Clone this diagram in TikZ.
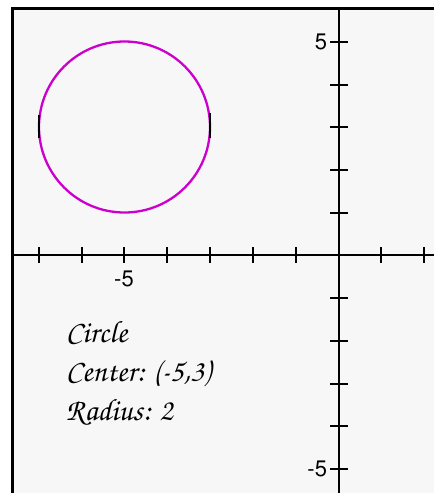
\documentclass[tikz,border=0pt]{standalone}
\usepackage[T1]{fontenc}
\usepackage{tikz}
\usepackage{xcolor}

\definecolor{plotbg}{RGB}{247,247,247}
\definecolor{circmag}{RGB}{204,0,204}

\tikzset{
  numlabel/.style={inner sep=0.75pt, font=\fontfamily{phv}\fontsize{22}{25}\selectfont},
  scriptlabel/.style={anchor=base west, inner sep=0.75pt, font=\fontfamily{pzc}\fontsize{31}{34}\selectfont},
  axisline/.style={line width=2.8pt},
  tickline/.style={line width=2.6pt}
}

\begin{document}
\begin{tikzpicture}[x=1pt,y=1pt,yscale=-1,xscale=1]
                    \useasboundingbox (0,0) rectangle (434,493);
                    %Plot Area
                    \fill [plotbg] (12,8) rectangle (434,493);
                    %Frame Lines
                    \draw [line width=3pt] (12,493) -- (12,8) -- (434,8);

                    %Straight Lines - x axis
                    \draw [axisline]   (12,255) -- (434,255) ;
                    %Straight Lines - y axis
                    \draw [axisline]   (339,8) -- (339,493) ;

                    %Ticks on x axis
                    \draw [tickline]   (39,247) -- (39,263) ;
                    \draw [tickline]   (82,247) -- (82,263) ;
                    \draw [tickline]   (124,247) -- (124,263) ;
                    \draw [tickline]   (167,247) -- (167,263) ;
                    \draw [tickline]   (210,247) -- (210,263) ;
                    \draw [tickline]   (253,247) -- (253,263) ;
                    \draw [tickline]   (296,247) -- (296,263) ;
                    \draw [tickline]   (381,247) -- (381,263) ;
                    \draw [tickline]   (424,247) -- (424,263) ;
                    %Ticks on y axis
                    \draw [tickline]   (330,42) -- (348,42) ;
                    \draw [tickline]   (330,85) -- (348,85) ;
                    \draw [tickline]   (330,127) -- (348,127) ;
                    \draw [tickline]   (330,170) -- (348,170) ;
                    \draw [tickline]   (330,213) -- (348,213) ;
                    \draw [tickline]   (330,298) -- (348,298) ;
                    \draw [tickline]   (330,341) -- (348,341) ;
                    \draw [tickline]   (330,384) -- (348,384) ;
                    \draw [tickline]   (330,426) -- (348,426) ;
                    \draw [tickline]   (330,469) -- (348,469) ;

                    %Circle
                    \draw [color=circmag, line width=2.3pt] (124.5,127) circle [radius=85.5] ;
                    %Straight Lines - marks on the circle
                    \draw [line width=2.5pt]   (39,115) -- (39,138) ;
                    \draw [line width=2.5pt]   (210,113) -- (210,138) ;

                    % Text Node
                    \node (lbltop) [numlabel, anchor=east] at (328,42) {5};
                    % Text Node
                    \node (lblxneg) [numlabel, anchor=north] at (124,271) {-5};
                    % Text Node
                    \node (lblyneg) [numlabel, anchor=east] at (328,469) {-5};
                    % Text Node
                    \node (txtname) [scriptlabel] at (65,342) {Circle};
                    % Text Node
                    \node (txtcenter) [scriptlabel] at (65,381) {Center: (-5,3)};
                    % Text Node
                    \node (txtradius) [scriptlabel] at (65,420) {Radius: 2};
                \end{tikzpicture}
\end{document}
